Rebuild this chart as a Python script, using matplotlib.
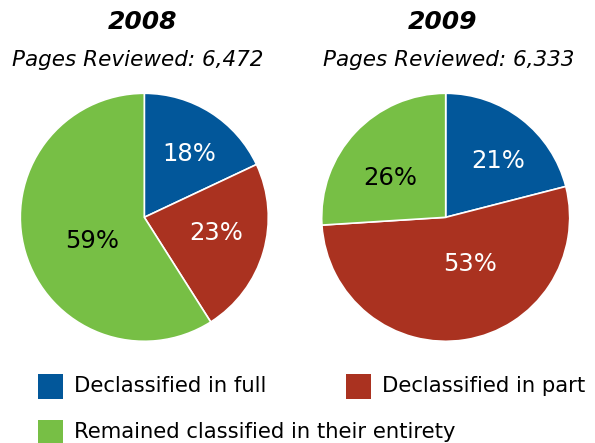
import matplotlib
matplotlib.use("Agg")
import matplotlib.pyplot as plt
from matplotlib.patches import Rectangle

W, H = 595, 443

CATEGORIES = ["Declassified in full", "Declassified in part", "Remained classified in their entirety"]
YEARS = ["2008", "2009"]
PAGES = ["6,472", "6,333"]
SHARES_2008 = [18, 23, 59]
SHARES_2009 = [21, 53, 26]

COLORS = ["#02579a", "#aa3220", "#77bf45"]
TEXT_COLORS = ["white", "white", "black"]

# label positions inside each pie, in radius units
LABEL_POS = {
    "2008": [(0.36, 0.51), (0.58, -0.13), (-0.42, -0.19)],
    "2009": [(0.42, 0.45), (0.20, -0.38), (-0.45, 0.32)],
}
PIE_CENTERS = [(144.3, 217.3), (445.7, 217.3)]
PIE_RADIUS = 124
TITLE_X = [142.5, 442.5]
SUBTITLE_X = [137.5, 449]
LEGEND_SLOTS = [(38.3, 374, 386), (346, 374, 386), (38.3, 420, 432)]


def fx(px):
    return px / W


def fy(py):
    return 1 - py / H


def draw_pie(fig, idx, shares):
    year = YEARS[idx]
    cx, cy = PIE_CENTERS[idx]
    ax = fig.add_axes([fx(cx - PIE_RADIUS), fy(cy + PIE_RADIUS),
                       2 * PIE_RADIUS / W, 2 * PIE_RADIUS / H])
    wedges, _ = ax.pie(shares, colors=COLORS, startangle=90, counterclock=False,
                       wedgeprops=dict(edgecolor="white", linewidth=1.2))
    for w in wedges:
        w.set_clip_on(False)
    for (x, y), val, tc in zip(LABEL_POS[year], shares, TEXT_COLORS):
        ax.text(x, y, f"{val}%", ha="center", va="center", color=tc, fontsize=17.5)
    ax.set_xlim(-1, 1)
    ax.set_ylim(-1, 1)
    ax.set_aspect("equal")
    ax.axis("off")

    fig.text(fx(TITLE_X[idx]), fy(22), year, ha="center", va="center",
             fontsize=18, fontweight="bold", fontstyle="italic")
    fig.text(fx(SUBTITLE_X[idx]), fy(60), f"Pages Reviewed: {PAGES[idx]}",
             ha="center", va="center", fontsize=15.5, fontstyle="italic")


def draw_legend(fig):
    for (x, y, ty), label, color in zip(LEGEND_SLOTS, CATEGORIES, COLORS):
        fig.add_artist(Rectangle((fx(x), fy(y + 25)), 24.5 / W, 25 / H,
                                 transform=fig.transFigure, color=color, lw=0))
        fig.text(fx(x + 36), fy(ty), label, ha="left", va="center", fontsize=15.2)


def main():
    plt.rcParams["font.family"] = ["DejaVu Sans"]
    fig = plt.figure(figsize=(W / 100, H / 100), dpi=100)
    draw_pie(fig, 0, SHARES_2008)
    draw_pie(fig, 1, SHARES_2009)
    draw_legend(fig)
    fig.savefig("out.png", dpi=100)


if __name__ == "__main__":
    main()
